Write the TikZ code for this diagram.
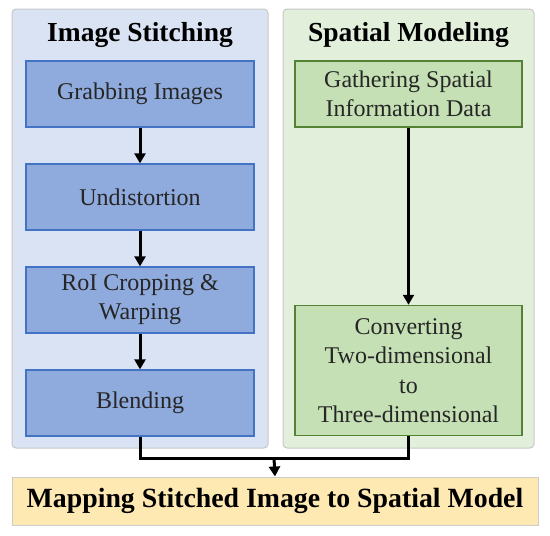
\documentclass[tikz,border=0pt]{standalone}
\usepackage{fontspec}
\setmainfont{Liberation Serif}
\usepackage{xcolor}
\usetikzlibrary{arrows.meta}

\definecolor{stitchbg}{HTML}{DAE3F3}
\definecolor{stitchfill}{HTML}{8FAADC}
\definecolor{stitchline}{HTML}{4472C4}
\definecolor{modelbg}{HTML}{E2EFDA}
\definecolor{modelfill}{HTML}{C5E0B4}
\definecolor{modelline}{HTML}{548235}
\definecolor{mapfill}{HTML}{FFE9B3}
\definecolor{boxtext}{HTML}{262626}

\tikzset{
  panel/.style={rectangle, rounded corners=4pt, draw=black!22, line width=1pt},
  paneltitle/.style={font=\bfseries\fontsize{27.5}{32}\selectfont},
  stitchbox/.style={rectangle, fill=stitchfill, draw=stitchline, line width=1.3pt,
    minimum width=228pt, minimum height=66pt, align=center, text=boxtext,
    font=\fontsize{24}{29}\selectfont},
  modelbox/.style={rectangle, fill=modelfill, draw=modelline, line width=1.5pt,
    minimum width=227pt, align=center, text=boxtext, inner sep=2pt,
    font=\fontsize{24}{29.5}\selectfont},
  flow/.style={line width=3pt, -{Triangle[length=10pt,width=11pt]}},
  link/.style={line width=3pt}
}

\begin{document}
\begin{tikzpicture}[x=1pt,y=-1pt]
\useasboundingbox (0,0) rectangle (550,536);

% two panels
\node[panel, fill=stitchbg, minimum width=256pt, minimum height=439pt] (stitchpanel) at (140,228.5) {};
\node[panel, fill=modelbg, minimum width=251pt, minimum height=439pt] (modelpanel) at (408.5,228.5) {};
\node[paneltitle] (stitchtitle) at (140,35) {Image Stitching};
\node[paneltitle] (modeltitle) at (408.5,35) {Spatial Modeling};

% image stitching steps
\node[stitchbox] (grab) at (140,94) {Grabbing Images};
\node[stitchbox] (undist) at (140,197) {Undistortion};
\node[stitchbox] (roi) at (140,300) {RoI Cropping \&\\Warping};
\node[stitchbox] (blend) at (140,403) {Blending};

% spatial modeling steps
\node[modelbox, minimum height=66pt] (gather) at (408.5,94) {Gathering Spatial\\Information Data};
\node[modelbox, minimum height=130pt] (convert) at (408.5,370.5) {Converting\\Two-dimensional\\to\\Three-dimensional};

% result
\node[rectangle, fill=mapfill, draw=black!20, line width=1pt, minimum width=526pt, minimum height=48pt,
  font=\bfseries\fontsize{27.8}{32}\selectfont] (mapping) at (275,501) {Mapping Stitched Image to Spatial Model};

\draw[flow] (grab) -- (undist);
\draw[flow] (undist) -- (roi);
\draw[flow] (roi) -- (blend);
\draw[flow] (gather) -- (convert);

\coordinate (join) at (274,458);
\draw[link] (blend.south) |- (join) -| (convert.south);
\draw[flow] (join) -- (mapping.north);
\end{tikzpicture}
\end{document}
